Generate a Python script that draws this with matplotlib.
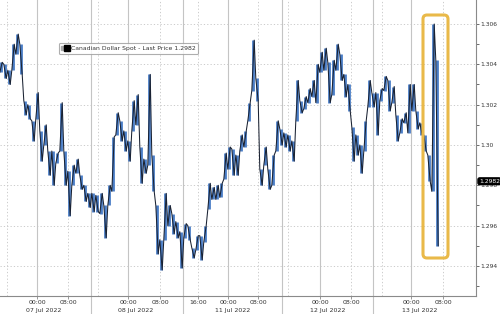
import matplotlib
matplotlib.use("Agg")
from matplotlib import pyplot as plt
from matplotlib.lines import Line2D
from matplotlib.legend_handler import HandlerTuple
from matplotlib.patches import FancyBboxPatch
from matplotlib.transforms import IdentityTransform, blended_transform_factory
import numpy as np

# USD/CAD bar highs and lows, one bar every ~4px of the original chart
highs = [1.3041, 1.3040, 1.3037, 1.3050, 1.3055, 1.3050, 1.3022, 1.3020, 1.3012, 1.3026,
         1.3007, 1.3010, 1.2997, 1.2997, 1.2996, 1.3021, 1.2997, 1.2987, 1.2990, 1.2993,
         1.2985, 1.2980, 1.2976, 1.2976, 1.2975, 1.2976, 1.2970, 1.2980, 1.3004, 1.3016,
         1.3012, 1.3007, 1.3002, 1.3022, 1.3025, 1.2999, 1.2993, 1.3035, 1.2995, 1.2970,
         1.2953, 1.2976, 1.2970, 1.2966, 1.2962, 1.2957, 1.2961, 1.2960, 1.2949, 1.2955,
         1.2955, 1.2960, 1.2981, 1.2979, 1.2980, 1.2981, 1.2996, 1.2999, 1.2998, 1.2995,
         1.3005, 1.3007, 1.3021, 1.3052, 1.3033, 1.2988, 1.2999, 1.2988, 1.2995, 1.3012,
         1.3008, 1.3006, 1.3005, 1.3002, 1.3032, 1.3022, 1.3024, 1.3028, 1.3032, 1.3040,
         1.3046, 1.3048, 1.3041, 1.3042, 1.3050, 1.3045, 1.3035, 1.3030, 1.3009, 1.3005,
         1.3000, 1.3012, 1.3032, 1.3026, 1.3026, 1.3028, 1.3034, 1.3032, 1.3029, 1.3015,
         1.3013, 1.3016, 1.3030, 1.3030, 1.3017, 1.3011, 1.3005, 1.2995, 1.3060, 1.3042]
lows = [1.3036, 1.3033, 1.3030, 1.3037, 1.3045, 1.3035, 1.3015, 1.3013, 1.3002, 1.3013,
        1.2992, 1.3000, 1.2985, 1.2980, 1.2991, 1.2997, 1.2980, 1.2965, 1.2980, 1.2986,
        1.2978, 1.2972, 1.2969, 1.2967, 1.2967, 1.2966, 1.2954, 1.2970, 1.2977, 1.3005,
        1.3002, 1.2997, 1.2992, 1.3007, 1.3010, 1.2981, 1.2986, 1.2990, 1.2977, 1.2946,
        1.2938, 1.2953, 1.2960, 1.2956, 1.2954, 1.2939, 1.2954, 1.2953, 1.2944, 1.2948,
        1.2943, 1.2952, 1.2968, 1.2973, 1.2973, 1.2974, 1.2983, 1.2988, 1.2985, 1.2985,
        1.2997, 1.2999, 1.3012, 1.3027, 1.3022, 1.2980, 1.2990, 1.2978, 1.2980, 1.2997,
        1.3000, 1.2999, 1.2997, 1.2992, 1.3012, 1.3016, 1.3018, 1.3021, 1.3024, 1.3021,
        1.3036, 1.3037, 1.3021, 1.3025, 1.3037, 1.3032, 1.3024, 1.3017, 1.2992, 1.2995,
        1.2986, 1.2997, 1.3019, 1.3019, 1.3005, 1.3022, 1.3027, 1.3017, 1.3021, 1.3002,
        1.3006, 1.3011, 1.3006, 1.3017, 1.3008, 1.3005, 1.2997, 1.2982, 1.2977, 1.2950]
last_price = 1.2982

yticks = [1.294, 1.296, 1.298, 1.300, 1.302, 1.304, 1.306]
ytick_labels = ["1.294", "1.296", "1.298", "1.30", "1.302", "1.304", "1.306"]

# x axis positions are in bar units
midnight_ticks = [9, 31.75, 56.75, 79.75, 102.5]
other_ticks = [1.5, 16.75, 24.25, 39.75, 49.25, 64.25, 71.75, 87.5, 95.25, 110.5]
time_ticks = [9, 16.75, 31.75, 39.75, 49.25, 56.75, 64.25, 79.75, 87.5, 102.5, 110.5]
time_labels = ["00:00", "08:00", "00:00", "08:00", "16:00", "00:00",
               "08:00", "00:00", "08:00", "00:00", "08:00"]
day_separators = [22.5, 45.5, 70.25, 93]
date_pos = [10.75, 33.75, 58, 81.75, 104.75]
date_labels = ["07 Jul 2022", "08 Jul 2022", "11 Jul 2022", "12 Jul 2022", "13 Jul 2022"]

plt.rcParams["font.family"] = "DejaVu Sans"

fig = plt.figure(figsize=(5, 3.14), dpi=100)
ax = fig.add_axes([0, 18 / 314, 476 / 500, 296 / 314])

x = np.arange(len(highs))
hi = np.array(highs)
lo = np.array(lows)
mid = (hi + lo) / 2
up = np.r_[True, mid[1:] >= mid[:-1]]

grid_c = "#c4c4c4"
for p in midnight_ticks + day_separators:
    ax.axvline(p, color=grid_c, lw=0.8, zorder=1)
for p in other_ticks:
    ax.axvline(p, color=grid_c, lw=0.6, ls=(0, (1.5, 2.5)), zorder=1)
for v in yticks:
    ax.axhline(v, color=grid_c, lw=0.6, ls=(0, (1.5, 2.5)), zorder=1)

# blue candles under a dark zigzag through each bar's range
ax.vlines(x, lo, hi, color="#4a7dc6", lw=2.0, zorder=3)
zx = np.column_stack([x - 0.3, x + 0.3]).ravel()
zy = np.column_stack([np.where(up, lo, hi), np.where(up, hi, lo)]).ravel()
ax.plot(zx, zy, color="#1a2232", lw=0.75, zorder=4)

ax.set_xlim(-0.25, 118.75)
ax.set_ylim(1.29251, 1.30719)

ax.yaxis.tick_right()
ax.set_yticks(yticks)
ax.set_yticklabels(ytick_labels)
ax.set_yticks([1.293, 1.295, 1.297, 1.299, 1.301, 1.303, 1.305], minor=True)
ax.tick_params(axis="y", which="both", length=2, width=0.6, colors="#555555",
               labelsize=4.3, pad=1)
ax.tick_params(axis="y", labelcolor="#333333")
ax.set_xticks(time_ticks)
ax.set_xticklabels([])
ax.tick_params(axis="x", length=2, width=0.6, colors="#888888")

for s in ["top", "left"]:
    ax.spines[s].set_visible(False)
for s in ["right", "bottom"]:
    ax.spines[s].set_color("#8a8a8a")
    ax.spines[s].set_linewidth(0.8)

trans = blended_transform_factory(ax.transData, fig.transFigure)
for p, t in zip(time_ticks, time_labels):
    ax.text(p, 1 - 303 / 314, t, transform=trans, ha="center", va="center",
            fontsize=4.5, color="#333333")
for p, t in zip(date_pos, date_labels):
    ax.text(p, 1 - 310.5 / 314, t, transform=trans, ha="center", va="center",
            fontsize=4.5, color="#333333")
for p in day_separators:
    ax.plot([p, p], [0, 18 / 314], transform=trans, color=grid_c, lw=0.8, clip_on=False)

# last price marker
ytrans = blended_transform_factory(ax.transAxes, ax.transData)
ax.text(1.006, last_price, f"{last_price:.4f}", transform=ytrans, ha="left", va="center",
        fontsize=4.3, color="white", zorder=6,
        bbox=dict(boxstyle="round,pad=0.15,rounding_size=0.3", fc="black", ec="black"))

# legend
h_gray = Line2D([], [], ls="none", marker="s", ms=3, color="#aaaaaa")
h_black = Line2D([], [], ls="none", marker="s", ms=4.5, color="black")
leg = ax.legend([(h_gray, h_black)], [f"Canadian Dollar Spot - Last Price {last_price:.4f}"],
                handler_map={tuple: HandlerTuple(ndivide=None, pad=0.1)},
                loc="upper left", bbox_to_anchor=(59 / 476, 1 - 43 / 296),
                fontsize=4.4, frameon=True, fancybox=True, handlelength=1.2,
                handletextpad=0.3, borderpad=0.45, borderaxespad=0)
leg.get_frame().set_edgecolor("#9a9a9a")
leg.get_frame().set_linewidth(0.8)
leg.get_texts()[0].set_color("#333333")

# highlight box around the spike
box = FancyBboxPatch((423, 314 - 258), 25, 243,
                     boxstyle="round,pad=0,rounding_size=4",
                     transform=IdentityTransform(), fill=False,
                     ec="#e9b949", lw=2.2, zorder=5, clip_on=False)
ax.add_patch(box)

fig.savefig("out.png", dpi=100)
